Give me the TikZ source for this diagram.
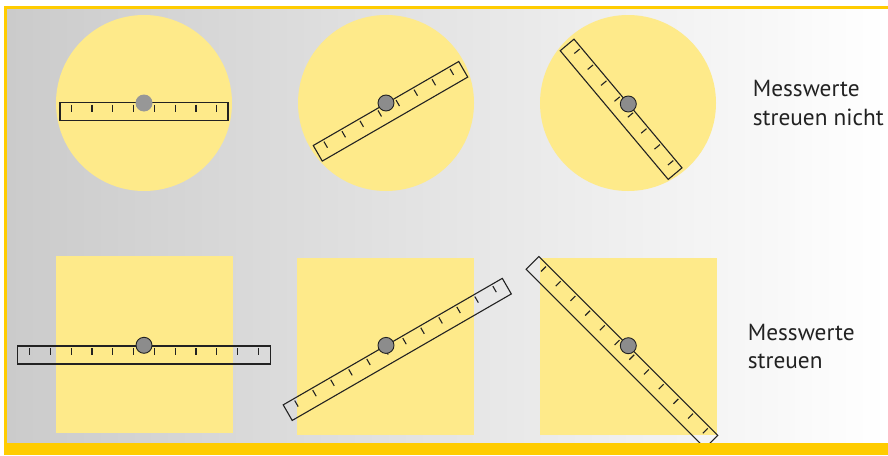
\documentclass[tikz,border=0pt]{standalone}
\usepackage{fontspec}
\setmainfont{PT Sans}
\definecolor{bordery}{HTML}{FFCC00}
\definecolor{filly}{HTML}{FEEA8A}
\definecolor{bgleft}{HTML}{CBCBCB}
\definecolor{bgright}{HTML}{FFFFFF}
\definecolor{inkc}{HTML}{222222}
\definecolor{dotc}{HTML}{8C8C8C}
\tikzset{
  rulerline/.style={draw=inkc, line width=1.1pt, line join=miter},
  tickline/.style={draw=inkc, line width=1.1pt},
  disc/.style={circle, fill=filly, minimum size=176pt, inner sep=0pt},
  sq/.style={rectangle, fill=filly, minimum size=177pt, inner sep=0pt},
  pivotdot/.style={circle, fill=dotc, draw=inkc, line width=0.9pt, minimum size=16pt, inner sep=0pt},
  pivotplain/.style={circle, fill=dotc!90!white, minimum size=17pt, inner sep=0pt},
  caption/.style={anchor=base west, inner sep=0pt, text=inkc, font=\fontsize{23.3}{26}\selectfont},
  pics/rulerbar/.style n args={3}{code={
    \draw[rulerline] ({#3-#1/2},0) rectangle ({#3+#1/2},18);
    \foreach \k in {1,...,#2}{
      \draw[tickline] ({#3+(\k-0.5)*20.8},2) -- ++(0,7);
      \draw[tickline] ({#3-(\k-0.5)*20.8},2) -- ++(0,7);
    }
  }}
}
\begin{document}
\begin{tikzpicture}[x=1pt,y=-1pt]
\useasboundingbox (0,0) rectangle (888,455);
\fill[white] (0,0) rectangle (888,455);
% background gradient
\shade[left color=bgleft, right color=bgright] (7,9) rectangle (888,443);
% frame
\fill[bordery] (4,6) rectangle (888,9);
\fill[bordery] (4,6) rectangle (7,443);
% yellow shapes
\node[disc] (c1) at (144,103) {};
\node[disc] (c2) at (386,103) {};
\node[disc] (c3) at (628,103) {};
\node[sq] (s1) at (144.3,344.2) {};
\node[sq] (s2) at (385.3,346.2) {};
\node[sq] (s3) at (628.3,346.2) {};
% rulers
\pic[rotate=0] at (144,102.5) {rulerbar={168}{4}{0}};
\pic[rotate=30] at (386,103.5) {rulerbar={168}{4}{0}};
\pic[rotate=-50] at (628,103.5) {rulerbar={168}{4}{0}};
\pic[rotate=0] at (144,346) {rulerbar={253}{6}{0}};
\pic[rotate=30] at (386,345.5) {rulerbar={253}{6}{7.8}};
\pic[rotate=-45] at (628.3,346) {rulerbar={253}{6}{0}};
% pivots
\node[pivotplain] (p1) at (144,103) {};
\node[pivotdot] (p2) at (386,103) {};
\node[pivotdot] (p3) at (628.3,104) {};
\node[pivotdot] (p4) at (144,345.3) {};
\node[pivotdot] (p5) at (386,345.4) {};
\node[pivotdot] (p6) at (628.3,345.7) {};
% bottom bar
\fill[bordery] (4,443) rectangle (888,455);
% captions
\node[caption] (t1a) at (752.7,96.7) {Messwerte};
\node[caption] (t1b) at (752.7,125.2) {streuen nicht};
\node[caption] (t2a) at (747.7,340) {Messwerte};
\node[caption] (t2b) at (747.7,368.3) {streuen};
\end{tikzpicture}
\end{document}
